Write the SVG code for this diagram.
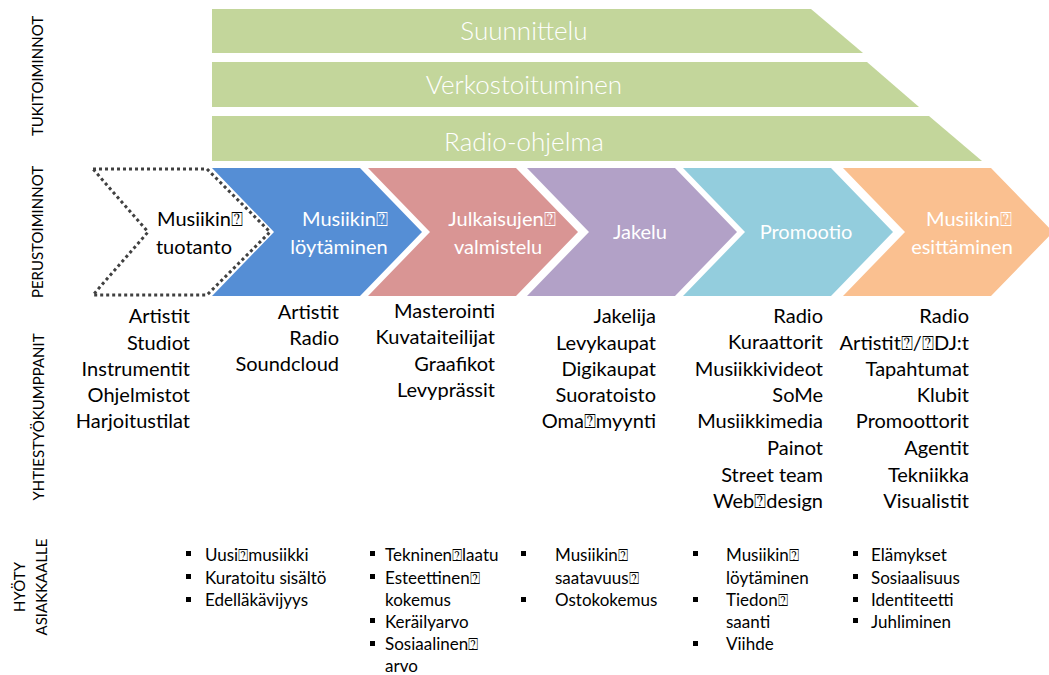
<svg xmlns="http://www.w3.org/2000/svg" width="1049" height="675" viewBox="0 0 1049 675">
<style>
text{font-family:Lato,"Liberation Sans","DejaVu Sans",sans-serif}
.band{fill:#C3D69B}
.bt{fill:#fff;font-size:26px;text-anchor:middle;font-weight:300}
.ct{fill:#fff;font-size:20px;text-anchor:middle}
.dt{fill:#000;font-size:20px;text-anchor:middle}
.side{fill:#000;font-size:15px;text-anchor:middle}
.lst{fill:#000;font-size:20px;text-anchor:end}
.bl{fill:#000;font-size:17px}
.sq{fill:#000}
</style>
<defs>
<polygon id="chev" points="0,168 148,168 210,232 148,296 0,296 62,232"/>
</defs>
<g id="labels">
<text class="side" transform="translate(43,76) rotate(-90)">TUKITOIMINNOT</text>
<text class="side" transform="translate(43,232) rotate(-90)">PERUSTOIMINNOT</text>
<text class="side" transform="translate(44,417) rotate(-90)">YHTIESTYÖKUMPPANIT</text>
<text class="side" transform="translate(25,587) rotate(-90)">HYÖTY</text>
<text class="side" transform="translate(47,587) rotate(-90)">ASIAKKAALLE</text>
</g>
<g id="suunnittelu">
<polygon class="band" points="212,9 811,9 863,53 212,53"/>
<text class="bt" x="524" y="40">Suunnittelu</text>
</g>
<g id="verkostoituminen">
<polygon class="band" points="212,62 867,62 919,107 212,107"/>
<text class="bt" x="524" y="94">Verkostoituminen</text>
</g>
<g id="radio-ohjelma">
<polygon class="band" points="212,116 929,116 982,161 212,161"/>
<text class="bt" x="524" y="151">Radio-ohjelma</text>
</g>
<g id="loytaminen">
<use href="#chev" x="212" fill="#558ED5"/>
<text class="ct" x="345" y="226">Musiikin⍰</text>
<text class="ct" x="339" y="254">löytäminen</text>
</g>
<g id="julkaisu">
<use href="#chev" x="368" fill="#D99594"/>
<text class="ct" x="502" y="226">Julkaisujen⍰</text>
<text class="ct" x="498" y="254">valmistelu</text>
</g>
<g id="jakelu">
<use href="#chev" x="527" fill="#B2A1C7"/>
<text class="ct" x="640" y="239">Jakelu</text>
</g>
<g id="promootio">
<use href="#chev" x="683" fill="#93CDDD"/>
<text class="ct" x="806" y="239">Promootio</text>
</g>
<g id="esittaminen">
<use href="#chev" x="843" fill="#FAC090"/>
<text class="ct" x="969" y="226">Musiikin⍰</text>
<text class="ct" x="962" y="254">esittäminen</text>
</g>
<g id="tuotanto">
<polygon points="93,169 207,169 270,232 207,295 93,295 148,232" fill="none" stroke="#404040" stroke-width="3" stroke-dasharray="3 3"/>
<text class="dt" x="200" y="226">Musiikin⍰</text>
<text class="dt" x="194" y="254">tuotanto</text>
</g>
<g id="connectors"></g>
<g id="partners">
<text class="lst" x="190" y="323">Artistit</text>
<text class="lst" x="190" y="350">Studiot</text>
<text class="lst" x="190" y="376">Instrumentit</text>
<text class="lst" x="190" y="402">Ohjelmistot</text>
<text class="lst" x="190" y="428">Harjoitustilat</text>
<text class="lst" x="339" y="319">Artistit</text>
<text class="lst" x="339" y="345">Radio</text>
<text class="lst" x="339" y="371">Soundcloud</text>
<text class="lst" x="495" y="318">Masterointi</text>
<text class="lst" x="495" y="344">Kuvataiteilijat</text>
<text class="lst" x="495" y="371">Graafikot</text>
<text class="lst" x="495" y="397">Levyprässit</text>
<text class="lst" x="656" y="323">Jakelija</text>
<text class="lst" x="656" y="350">Levykaupat</text>
<text class="lst" x="656" y="376">Digikaupat</text>
<text class="lst" x="656" y="402">Suoratoisto</text>
<text class="lst" x="656" y="428">Oma⍰myynti</text>
<text class="lst" x="823" y="323">Radio</text>
<text class="lst" x="823" y="349">Kuraattorit</text>
<text class="lst" x="823" y="376">Musiikkivideot</text>
<text class="lst" x="823" y="402">SoMe</text>
<text class="lst" x="823" y="428">Musiikkimedia</text>
<text class="lst" x="823" y="455">Painot</text>
<text class="lst" x="823" y="482">Street team</text>
<text class="lst" x="823" y="508">Web⍰design</text>
<text class="lst" x="969" y="323">Radio</text>
<text class="lst" x="969" y="350">Artistit⍰/⍰DJ:t</text>
<text class="lst" x="969" y="376">Tapahtumat</text>
<text class="lst" x="969" y="402">Klubit</text>
<text class="lst" x="969" y="428">Promoottorit</text>
<text class="lst" x="969" y="455">Agentit</text>
<text class="lst" x="969" y="482">Tekniikka</text>
<text class="lst" x="969" y="508">Visualistit</text>
</g>
<g id="benefits">
<rect class="sq" x="186" y="551" width="5" height="5"/>
<rect class="sq" x="186" y="574" width="5" height="5"/>
<rect class="sq" x="186" y="597" width="5" height="5"/>
<text class="bl" x="205" y="561">Uusi⍰musiikki</text>
<text class="bl" x="205" y="584">Kuratoitu sisältö</text>
<text class="bl" x="205" y="606">Edelläkävijyys</text>
<rect class="sq" x="370" y="551" width="5" height="5"/>
<rect class="sq" x="370" y="574" width="5" height="5"/>
<rect class="sq" x="370" y="618" width="5" height="5"/>
<rect class="sq" x="370" y="641" width="5" height="5"/>
<text class="bl" x="385" y="561">Tekninen⍰laatu</text>
<text class="bl" x="385" y="584">Esteettinen⍰</text>
<text class="bl" x="385" y="606">kokemus</text>
<text class="bl" x="385" y="628">Keräilyarvo</text>
<text class="bl" x="385" y="650">Sosiaalinen⍰</text>
<text class="bl" x="385" y="672">arvo</text>
<rect class="sq" x="521" y="551" width="5" height="5"/>
<rect class="sq" x="521" y="597" width="5" height="5"/>
<text class="bl" x="555" y="561">Musiikin⍰</text>
<text class="bl" x="555" y="584">saatavuus⍰</text>
<text class="bl" x="555" y="606">Ostokokemus</text>
<rect class="sq" x="693" y="551" width="5" height="5"/>
<rect class="sq" x="693" y="597" width="5" height="5"/>
<rect class="sq" x="693" y="641" width="5" height="5"/>
<text class="bl" x="726" y="561">Musiikin⍰</text>
<text class="bl" x="726" y="584">löytäminen</text>
<text class="bl" x="726" y="606">Tiedon⍰</text>
<text class="bl" x="726" y="628">saanti</text>
<text class="bl" x="726" y="650">Viihde</text>
<rect class="sq" x="853" y="551" width="5" height="5"/>
<rect class="sq" x="853" y="574" width="5" height="5"/>
<rect class="sq" x="853" y="597" width="5" height="5"/>
<rect class="sq" x="853" y="618" width="5" height="5"/>
<text class="bl" x="871" y="561">Elämykset</text>
<text class="bl" x="871" y="584">Sosiaalisuus</text>
<text class="bl" x="871" y="606">Identiteetti</text>
<text class="bl" x="871" y="628">Juhliminen</text>
</g>
</svg>
